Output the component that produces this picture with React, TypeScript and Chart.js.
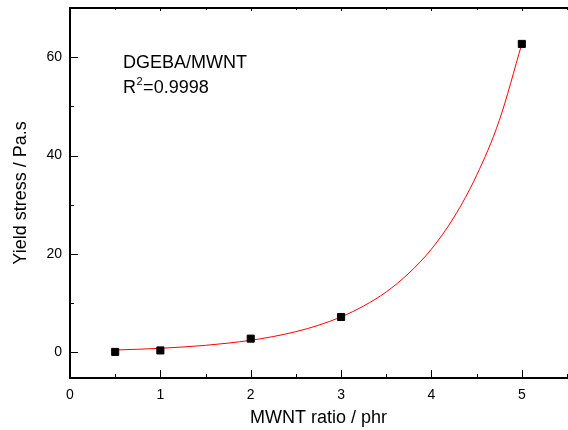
import React, { useEffect, useRef } from "react";
import { Chart, registerables } from "chart.js";

Chart.register(...registerables);

// measured points
const pointX = [0.5, 1, 2, 3, 5];
const pointY = [0.1, 0.4, 2.8, 7.2, 62.7];

// fitted curve
const fitX = [0.5, 0.75, 1, 1.25, 1.5, 1.75, 2, 2.25, 2.5, 2.75, 3, 3.25, 3.5, 3.75, 4, 4.25, 4.5, 4.75, 5];
const fitY = [0.49, 0.64, 0.84, 1.1, 1.44, 1.89, 2.46, 3.23, 4.22, 5.52, 7.22, 9.44, 12.3, 16.1, 21.0, 27.5, 36.0, 47.1, 62.7];

const xMajorTicks = [0, 1, 2, 3, 4, 5];
const xMinorTicks = [0.5, 1.5, 2.5, 3.5, 4.5, 5.5];
const yMajorTicks = [0, 20, 40, 60];
const yMinorTicks = [10, 30, 50];

const xTitle = "MWNT ratio / phr";
const yTitle = "Yield stress / Pa.s";
const noteLine1 = "DGEBA/MWNT";
const noteR = "R";
const noteSup = "2";
const noteRest = "=0.9998";

const FONT = "'Liberation Sans', Arial, sans-serif";

const zeroPad = (s: any) => {
  s.paddingTop = 0;
  s.paddingBottom = 0;
  s.paddingLeft = 0;
  s.paddingRight = 0;
};

const decorPlugin = {
  id: "decor",
  afterDraw(chart: any) {
    const { ctx, chartArea: a, scales } = chart;
    const x = scales.x;
    const y = scales.y;
    ctx.save();
    ctx.strokeStyle = "#000";
    ctx.lineWidth = 1;
    const line = (x1: number, y1: number, x2: number, y2: number) => {
      ctx.beginPath();
      ctx.moveTo(x1, y1);
      ctx.lineTo(x2, y2);
      ctx.stroke();
    };
    xMajorTicks.forEach((v) => {
      const px = Math.round(x.getPixelForValue(v)) + 0.5;
      line(px, a.bottom, px, a.bottom - 8);
      line(px, a.top, px, a.top + 3);
    });
    xMinorTicks.forEach((v) => {
      const px = Math.round(x.getPixelForValue(v)) + 0.5;
      line(px, a.bottom, px, a.bottom - 4);
      line(px, a.top, px, a.top + 2);
    });
    yMajorTicks.forEach((v) => {
      const py = Math.round(y.getPixelForValue(v)) + 0.5;
      line(a.left, py, a.left + 8, py);
    });
    yMinorTicks.forEach((v) => {
      const py = Math.round(y.getPixelForValue(v)) + 0.5;
      line(a.left, py, a.left + 4, py);
    });

    // annotation
    ctx.fillStyle = "#000";
    ctx.textBaseline = "alphabetic";
    ctx.textAlign = "left";
    const tx = a.left + 53;
    const ty1 = a.top + 60;
    const ty2 = a.top + 85;
    ctx.font = `18px ${FONT}`;
    ctx.fillText(noteLine1, tx, ty1);
    ctx.fillText(noteR, tx, ty2);
    const rw = ctx.measureText(noteR).width;
    ctx.font = `11px ${FONT}`;
    ctx.fillText(noteSup, tx + rw + 0.5, ty2 - 8);
    const sw = ctx.measureText(noteSup).width;
    ctx.font = `18px ${FONT}`;
    ctx.fillText(noteRest, tx + rw + sw + 1, ty2);
    ctx.restore();
  },
};

export default function App() {
  const ref = useRef<HTMLCanvasElement | null>(null);

  useEffect(() => {
    document.body.style.margin = "0";
    const canvas = ref.current;
    if (!canvas) return;
    const chart = new Chart(canvas, {
      type: "scatter",
      data: {
        datasets: [
          {
            type: "line",
            label: "fit",
            data: fitX.map((v, i) => ({ x: v, y: fitY[i] })),
            borderColor: "#ff0000",
            borderWidth: 1,
            pointRadius: 0,
            fill: false,
            cubicInterpolationMode: "monotone",
            order: 2,
          } as any,
          {
            label: "data",
            data: pointX.map((v, i) => ({ x: v, y: pointY[i] })),
            pointStyle: "rect",
            pointRadius: 5,
            pointBackgroundColor: "#000",
            pointBorderColor: "#000",
            pointBorderWidth: 1,
            order: 1,
          } as any,
        ],
      },
      options: {
        responsive: false,
        animation: false,
        layout: { padding: 0 },
        plugins: {
          legend: { display: false },
          tooltip: { enabled: false },
        },
        scales: {
          x: {
            type: "linear",
            position: "bottom",
            min: 0,
            max: 5.5,
            afterBuildTicks: (s: any) => {
              s.ticks = xMajorTicks.map((value) => ({ value }));
            },
            afterFit: (s: any) => {
              s.height = 52;
              zeroPad(s);
            },
            grid: { display: false, drawTicks: false },
            border: { display: true, color: "#000", width: 2 },
            ticks: {
              padding: 9,
              color: "#000",
              font: { size: 14, family: FONT },
              maxRotation: 0,
              callback: (v: any) => String(v),
            },
            title: {
              display: true,
              text: xTitle,
              color: "#000",
              font: { size: 18, family: FONT },
              padding: { top: 0, bottom: 1 },
            },
          },
          x2: {
            type: "linear",
            position: "top",
            min: 0,
            max: 5.5,
            afterFit: (s: any) => {
              s.height = 8;
              zeroPad(s);
            },
            grid: { display: false, drawTicks: false },
            border: { display: true, color: "#000", width: 2 },
            ticks: { display: false },
          },
          y: {
            type: "linear",
            position: "left",
            min: -5.2,
            max: 70,
            afterBuildTicks: (s: any) => {
              s.ticks = yMajorTicks.map((value) => ({ value }));
            },
            afterFit: (s: any) => {
              s.width = 70;
              zeroPad(s);
            },
            grid: { display: false, drawTicks: false },
            border: { display: true, color: "#000", width: 2 },
            ticks: {
              padding: 8,
              color: "#000",
              font: { size: 14, family: FONT },
              callback: (v: any) => String(v),
            },
            title: {
              display: true,
              text: yTitle,
              color: "#000",
              font: { size: 18, family: FONT },
              padding: { top: 10, bottom: 0 },
            },
          },
        },
      },
      plugins: [decorPlugin],
    } as any);
    return () => chart.destroy();
  }, []);

  return (
    <div style={{ width: 568, height: 430, overflow: "hidden" }}>
      <canvas
        ref={ref}
        width={573}
        height={430}
        style={{ display: "block", width: 573, height: 430 }}
      />
    </div>
  );
}
